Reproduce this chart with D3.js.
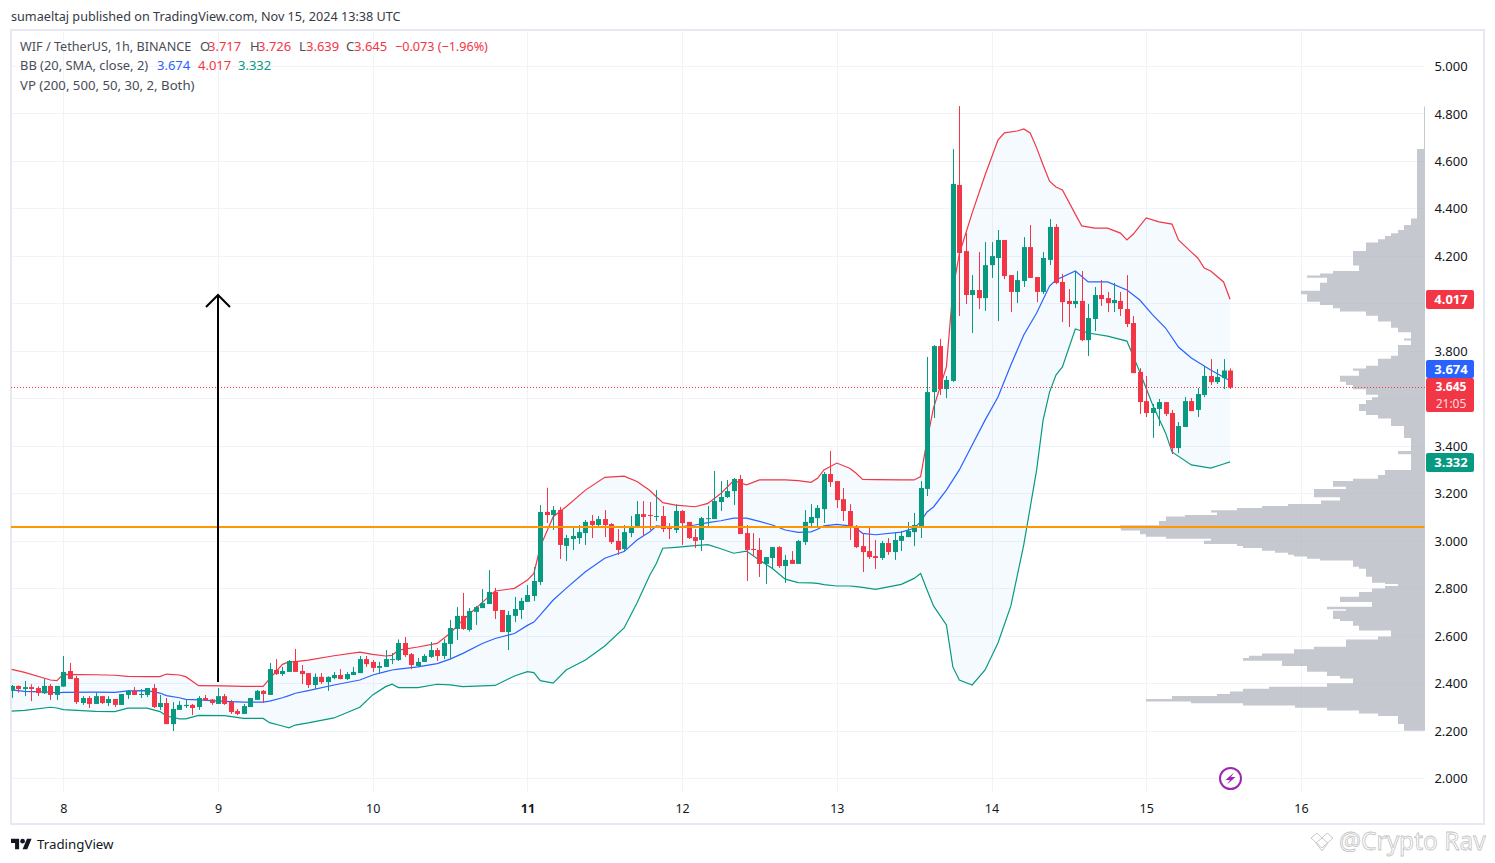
<!DOCTYPE html>
<html>
<head>
<meta charset="utf-8">
<script src="https://cdnjs.cloudflare.com/ajax/libs/d3/7.8.5/d3.min.js"></script>
<style>
html, body { margin: 0; background: #fff; }
text { font-family: "Noto Sans", sans-serif; }
</style>
</head>
<body>
<svg id="chart" width="1495" height="863"></svg>
<script>
// hourly candles, first one is 8 hours before Nov 8 00:00
var firstHour = -8;
var opens = [2.368,2.388,2.375,2.383,2.379,2.357,2.388,2.350,2.385,2.451,2.421,2.316,2.337,2.312,2.345,2.316,2.333,2.308,2.350,2.367,2.350,2.350,2.379,2.299,2.316,2.227,2.287,2.303,2.308,2.299,2.337,2.331,2.312,2.345,2.320,2.282,2.270,2.299,2.329,2.367,2.350,2.455,2.438,2.447,2.493,
  2.451,2.442,2.392,2.426,2.404,2.421,2.434,2.417,2.434,2.442,2.501,2.489,2.464,2.468,2.497,2.497,2.569,2.522,2.472,2.489,2.510,2.539,2.514,2.565,2.628,2.683,2.624,2.700,2.716,2.733,2.784,2.708,2.615,2.683,2.708,2.742,2.767,2.826,
  3.121,3.108,3.129,2.978,3.007,3.011,3.032,3.083,3.066,3.091,3.070,2.999,2.965,3.032,3.058,3.112,3.108,3.100,3.104,3.053,3.045,3.125,3.079,3.015,3.003,3.091,3.091,3.163,3.184,3.209,3.260,
  3.032,2.965,2.961,2.902,2.927,2.973,2.893,2.919,2.902,2.994,3.074,3.095,3.133,3.281,3.251,3.175,3.125,3.062,2.977,2.956,2.935,2.927,2.990,2.952,2.999,3.015,3.036,3.062,3.218,
  3.626,3.820,3.639,3.673,4.499,4.220,4.035,4.056,4.022,4.161,4.191,4.267,4.119,4.048,4.094,4.237,4.111,4.048,4.183,4.322,4.090,4.010,3.997,
  4.010,3.845,3.934,4.035,4.022,4.001,4.010,3.976,3.917,3.711,3.588,3.538,3.555,3.584,3.538,3.390,3.479,3.588,3.551,3.614,3.694,3.668,3.685,3.717];
var highs = [2.392,2.390,2.409,2.395,2.386,2.417,2.396,2.388,2.514,2.485,2.430,2.345,2.345,2.361,2.345,2.345,2.333,2.354,2.371,2.383,2.375,2.379,2.396,2.350,2.337,2.320,2.324,2.333,2.312,2.345,2.350,2.333,2.379,2.354,2.329,2.291,2.312,2.337,2.371,2.371,2.485,2.501,2.468,2.497,2.544,
  2.476,2.442,2.441,2.442,2.428,2.447,2.459,2.447,2.468,2.514,2.514,2.497,2.489,2.539,2.527,2.584,2.594,2.527,2.506,2.522,2.573,2.548,2.586,2.666,2.720,2.780,2.716,2.725,2.796,2.876,2.801,2.708,2.704,2.763,2.759,2.813,2.889,3.150,
  3.223,3.146,3.142,3.024,3.058,3.066,3.087,3.108,3.104,3.129,3.074,3.049,3.066,3.104,3.167,3.167,3.163,3.213,3.146,3.074,3.154,3.129,3.079,3.049,3.100,3.146,3.294,3.251,3.256,3.264,3.277,
  3.066,3.032,3.011,2.931,2.973,2.977,2.940,2.956,3.003,3.129,3.154,3.150,3.289,3.378,3.251,3.222,3.154,3.066,3.032,3.058,3.003,2.999,3.011,3.032,3.041,3.079,3.117,3.251,3.774,
  3.824,3.850,3.694,4.650,4.831,4.296,4.119,4.216,4.258,4.258,4.309,4.267,4.119,4.136,4.279,4.330,4.111,4.216,4.355,4.334,4.124,4.060,4.136,
  4.136,3.997,4.069,4.098,4.048,4.086,4.048,4.119,3.947,3.727,3.694,3.576,3.597,3.584,3.551,3.500,3.605,3.601,3.643,3.736,3.765,3.723,3.765,3.726];
var lows = [2.338,2.360,2.345,2.324,2.345,2.354,2.329,2.329,2.385,2.417,2.312,2.308,2.295,2.312,2.312,2.303,2.299,2.308,2.333,2.350,2.337,2.341,2.295,2.287,2.227,2.198,2.287,2.295,2.265,2.287,2.324,2.308,2.312,2.308,2.270,2.265,2.270,2.299,2.329,2.316,2.350,2.434,2.430,2.447,2.447,
  2.396,2.379,2.375,2.396,2.367,2.416,2.416,2.413,2.434,2.442,2.468,2.447,2.442,2.468,2.480,2.493,2.510,2.459,2.472,2.489,2.506,2.493,2.501,2.501,2.581,2.624,2.617,2.645,2.716,2.733,2.670,2.615,2.539,2.657,2.670,2.742,2.746,2.813,
  3.074,3.045,2.923,2.914,2.961,2.986,2.982,3.011,3.053,3.015,2.986,2.940,2.956,3.015,3.053,3.020,3.045,3.083,3.036,3.007,3.032,2.982,3.007,2.969,2.956,3.058,3.091,3.125,3.180,3.150,3.028,
  2.830,2.935,2.847,2.817,2.881,2.885,2.822,2.902,2.902,2.982,3.053,3.058,3.074,3.226,3.138,3.083,3.003,2.969,2.868,2.923,2.881,2.919,2.940,2.919,2.956,3.015,2.977,3.011,3.188,
  3.517,3.614,3.601,3.669,3.947,3.997,3.875,3.976,3.968,4.107,3.925,4.102,3.963,4.001,4.069,4.107,4.005,4.039,4.161,4.081,3.921,3.900,3.980,
  3.841,3.778,3.883,3.989,3.963,3.963,3.947,3.900,3.706,3.534,3.521,3.433,3.483,3.525,3.365,3.369,3.479,3.546,3.521,3.605,3.656,3.660,3.639,3.639];
var closes = [2.388,2.375,2.383,2.375,2.358,2.388,2.350,2.388,2.447,2.417,2.320,2.337,2.312,2.345,2.316,2.333,2.308,2.354,2.367,2.350,2.354,2.379,2.299,2.316,2.227,2.291,2.308,2.308,2.295,2.337,2.329,2.316,2.345,2.312,2.278,2.270,2.303,2.337,2.367,2.354,2.459,2.438,2.451,2.493,2.447,
  2.438,2.392,2.426,2.404,2.426,2.434,2.417,2.438,2.447,2.501,2.480,2.464,2.472,2.501,2.501,2.569,2.518,2.476,2.489,2.514,2.539,2.514,2.569,2.632,2.683,2.628,2.704,2.720,2.737,2.784,2.704,2.615,2.687,2.712,2.746,2.771,2.830,3.121,
  3.108,3.129,2.982,3.011,3.020,3.036,3.079,3.066,3.091,3.066,2.994,2.961,3.036,3.062,3.112,3.100,3.104,3.104,3.049,3.049,3.125,3.074,3.011,2.999,3.095,3.095,3.167,3.184,3.209,3.260,3.028,
  2.961,2.961,2.902,2.931,2.973,2.893,2.919,2.902,2.999,3.079,3.100,3.138,3.281,3.247,3.171,3.125,3.056,2.973,2.952,2.931,2.927,2.990,2.952,3.003,3.020,3.041,3.066,3.222,3.626,
  3.820,3.639,3.677,4.503,4.212,4.035,4.056,4.022,4.161,4.199,4.267,4.115,4.048,4.098,4.237,4.107,4.048,4.191,4.322,4.086,4.005,3.997,4.010,
  3.845,3.938,4.035,4.018,4.001,4.014,3.976,3.913,3.706,3.584,3.538,3.559,3.584,3.534,3.390,3.483,3.588,3.546,3.618,3.694,3.668,3.690,3.717,3.645];

// Bollinger bands, read at the hours where the lines bend
var bandHours = [-8,-6,-2,-1,0,5,8,10,13,15,16,18,19,21,25,28,31,32,34,35,36,38,42,46,48,50,51,52,55,58,60,62,65,67,70,72,73,74,76,78,81,84,87,89,91,92,93,95,98,100,102,104,106,108,110,112,114,116,117,118,120,122,123,124,126,130,132,133];
var bbUpper = [2.458,2.445,2.413,2.410,2.437,2.435,2.433,2.428,2.427,2.427,2.438,2.434,2.427,2.389,2.388,2.386,2.386,2.418,2.479,2.489,2.490,2.497,2.515,2.530,2.521,2.514,2.517,2.539,2.552,2.567,2.610,2.666,2.740,2.788,2.799,2.834,2.862,2.975,3.101,3.143,3.213,3.267,3.272,3.249,3.211,3.185,3.160,3.150,3.143,3.157,3.199,3.253,3.235,3.256,3.256,3.256,3.253,3.246,3.263,3.298,3.327,3.305,3.284,3.258,3.257,3.256,3.256,3.270];
var bbBasis = [2.371,2.365,2.362,2.359,2.361,2.362,2.361,2.367,2.368,2.358,2.347,2.338,2.331,2.329,2.323,2.320,2.320,2.324,2.338,2.347,2.357,2.368,2.392,2.413,2.434,2.448,2.455,2.459,2.468,2.482,2.501,2.525,2.567,2.588,2.609,2.643,2.657,2.687,2.750,2.799,2.869,2.926,2.954,3.003,3.038,3.062,3.059,3.056,3.066,3.076,3.084,3.095,3.095,3.081,3.066,3.045,3.035,3.037,3.048,3.062,3.069,3.062,3.052,3.031,3.025,3.036,3.052,3.080];
var bbLower = [2.282,2.285,2.298,2.295,2.288,2.281,2.280,2.294,2.294,2.280,2.261,2.249,2.249,2.264,2.263,2.251,2.251,2.233,2.219,2.211,2.223,2.232,2.253,2.298,2.350,2.385,2.395,2.381,2.381,2.395,2.392,2.385,2.388,2.390,2.430,2.448,2.444,2.410,2.400,2.455,2.497,2.556,2.632,2.737,2.855,2.904,2.968,2.972,2.979,2.983,2.966,2.947,2.956,2.918,2.883,2.838,2.823,2.822,2.820,2.815,2.809,2.809,2.806,2.803,2.795,2.816,2.841,2.862];
var upperTailHours = [134,135,137,138,139,141,143,145,146,148,149,150,151,152,153,154,155,157,158,160,162,164,165,166,168,170,172,173,175,176,177,178,180,181];
var upperTail = [3.424,3.559,3.732,4.056,4.208,4.381,4.541,4.688,4.718,4.726,4.735,4.718,4.655,4.583,4.515,4.490,4.478,4.376,4.326,4.317,4.317,4.296,4.267,4.292,4.360,4.343,4.334,4.267,4.216,4.191,4.149,4.136,4.090,4.017];
var basisTailHours = [134,135,137,139,141,143,145,147,149,151,153,154,157,159,162,165,167,169,171,173,175,178,181];
var basisTail = [3.121,3.142,3.213,3.298,3.403,3.508,3.605,3.740,3.867,3.959,4.073,4.098,4.136,4.090,4.090,4.056,4.014,3.951,3.896,3.816,3.770,3.719,3.674];
var lowerTailHours = [134,135,137,138,139,141,143,145,147,149,151,152,153,154,155,157,159,162,165,167,169,171,172,175,178,180,181];
var lowerTail = [2.792,2.725,2.645,2.468,2.413,2.392,2.455,2.569,2.725,2.982,3.298,3.508,3.626,3.698,3.732,3.892,3.875,3.862,3.841,3.711,3.572,3.454,3.374,3.319,3.306,3.323,3.332];

// volume profile, top price of each row and its relative volume
var vpTops = [4.829,4.650,4.357,4.330,4.309,4.295,4.284,4.270,4.256,4.220,4.159,4.136,4.126,4.117,4.108,4.087,4.053,4.038,4.007,3.993,3.979,3.966,3.948,3.923,3.897,3.878,3.852,3.843,3.824,3.779,3.767,3.737,3.725,3.716,3.695,3.670,3.656,3.638,3.615,3.604,3.593,3.576,3.546,3.529,3.515,3.483,3.433,3.378,3.364,3.298,3.277,3.261,3.251,3.227,3.218,3.183,3.169,3.155,3.146,3.138,3.128,3.119,3.108,3.102,3.083,3.065,3.051,3.043,3.027,3.017,3.008,3.000,2.986,2.978,2.969,2.958,2.949,2.941,2.933,2.924,2.916,2.890,2.882,2.848,2.823,2.817,2.809,2.798,2.784,2.764,2.742,2.722,2.711,2.705,2.670,2.662,2.642,2.621,2.596,2.584,2.553,2.542,2.525,2.515,2.506,2.494,2.472,2.448,2.430,2.419,2.399,2.385,2.376,2.364,2.354,2.346,2.333,2.322,2.315,2.306,2.296,2.284,2.272,2.261,2.228];
var vpVolumes = [1,8,14,21,27,34,40,47,59,72,66,92,105,118,98,105,124,118,105,92,85,59,47,34,27,14,21,14,27,34,47,59,72,66,85,79,72,59,47,53,59,66,59,47,34,21,14,27,14,40,47,72,92,79,111,85,104,137,163,188,214,208,240,259,266,305,304,285,279,259,214,221,188,182,163,150,137,131,118,105,72,66,59,53,40,27,40,53,66,85,53,98,79,92,85,72,66,34,47,79,111,131,163,176,182,143,118,98,85,72,98,156,182,195,208,253,279,234,182,130,98,66,47,27,21];
var vpBottom = 2.199;

var priceLabels = ["5.000","4.800","4.600","4.400","4.200","3.800","3.400","3.200","3.000","2.800","2.600","2.400","2.200","2.000"];
var priceGrid = [5,4.8,4.6,4.4,4.2,4,3.8,3.6,3.4,3.2,3,2.8,2.6,2.4,2.2,2];
var dayHours = [0,24,48,72,96,120,144,168,192];
var dayLabels = ["8","9","10","11","12","13","14","15","16"];

var levelPrice = 3.058;
var lastPrice = 3.645;
var arrowHour = 24;
var arrowFrom = 2.404;
var arrowTo = 4.035;

var green = "#089981", red = "#f23645", blue = "#2962ff";
var gridColor = "#f0f3fa", frameColor = "#e6e9f2", textColor = "#4a4d57";

var svg = d3.select("#chart");
var paneLeft = 11, paneRight = 1424.5, paneTop = 31, paneBottom = 793;

var x = d3.scaleLinear().domain([0, 192]).range([63.3, 63.3 + 6.446 * 192]);
var y = d3.scaleLinear().domain([2, 5]).range([778, 66]);
var vol = d3.scaleLinear().domain([0, 305]).range([1425, 1120]);
var snap = function(v){ return Math.round(v) + 0.5; };

svg.append("clipPath").attr("id", "pane").append("rect")
   .attr("x", paneLeft).attr("y", paneTop).attr("width", paneRight - paneLeft + 1).attr("height", paneBottom - paneTop);

// frame
svg.append("rect").attr("x", 11).attr("y", 30).attr("width", 1473).attr("height", 794)
   .attr("fill", "none").attr("stroke", frameColor).attr("stroke-width", 2);

// grid
svg.append("g").selectAll("line").data(priceGrid).enter().append("line")
   .attr("x1", paneLeft).attr("x2", paneRight)
   .attr("y1", function(d){ return snap(y(d)); }).attr("y2", function(d){ return snap(y(d)); })
   .attr("stroke", gridColor);
svg.append("g").selectAll("line").data(dayHours).enter().append("line")
   .attr("y1", paneTop).attr("y2", paneBottom)
   .attr("x1", function(d){ return snap(x(d)); }).attr("x2", function(d){ return snap(x(d)); })
   .attr("stroke", gridColor);

var pane = svg.append("g").attr("clip-path", "url(#pane)");

// volume profile as one stepped outline so the rows leave no seams
var line = d3.line();
var vpPts = [[vol(0), y(vpTops[0])]];
vpTops.forEach(function(d, i){
  var next = i + 1 < vpTops.length ? vpTops[i + 1] : vpBottom;
  vpPts.push([vol(vpVolumes[i]), y(d)]);
  vpPts.push([vol(vpVolumes[i]), y(next)]);
});
vpPts.push([vol(0), y(vpBottom)]);
pane.append("path").attr("d", line(vpPts) + "Z").attr("fill", "#b2b5be").attr("opacity", 0.75);

// bollinger fill and lines
var zip = function(hours, values){ return hours.map(function(h, i){ return [x(h), y(values[i])]; }); };
var upperPts = zip(bandHours.concat(upperTailHours), bbUpper.concat(upperTail));
var basisPts = zip(bandHours.concat(basisTailHours), bbBasis.concat(basisTail));
var lowerPts = zip(bandHours.concat(lowerTailHours), bbLower.concat(lowerTail));

pane.append("path").attr("d", line(upperPts.concat(lowerPts.slice().reverse())) + "Z")
   .attr("fill", "#2196f3").attr("fill-opacity", 0.05);
[[upperPts, red], [basisPts, blue], [lowerPts, green]].forEach(function(b){
  pane.append("path").attr("d", line(b[0])).attr("fill", "none").attr("stroke", b[1]).attr("stroke-width", 1.2);
});

// candles
var hours = opens.map(function(d, i){ return firstHour + i; });
var colorOf = function(i){ return closes[i] >= opens[i] ? green : red; };
var candles = pane.append("g").selectAll("g").data(hours).enter().append("g");
candles.append("line")
   .attr("x1", function(d){ return snap(x(d)); }).attr("x2", function(d){ return snap(x(d)); })
   .attr("y1", function(d, i){ return y(highs[i]); }).attr("y2", function(d, i){ return y(lows[i]); })
   .attr("stroke", function(d, i){ return colorOf(i); });
candles.append("rect")
   .attr("x", function(d){ return Math.round(x(d)) - 2; })
   .attr("width", 5)
   .attr("y", function(d, i){ return y(Math.max(opens[i], closes[i])); })
   .attr("height", function(d, i){ return Math.max(1, Math.abs(y(opens[i]) - y(closes[i]))); })
   .attr("fill", function(d, i){ return colorOf(i); });

// drawings
pane.append("line").attr("x1", paneLeft).attr("x2", paneRight).attr("y1", y(levelPrice)).attr("y2", y(levelPrice))
   .attr("stroke", "#ff9800").attr("stroke-width", 2);
var ax = snap(x(arrowHour)) - 0.5;
svg.append("path")
   .attr("d", "M" + ax + "," + y(arrowFrom) + "L" + ax + "," + y(arrowTo)
     + "M" + (ax - 12) + "," + (y(arrowTo) + 12) + "L" + ax + "," + y(arrowTo) + "L" + (ax + 12) + "," + (y(arrowTo) + 12))
   .attr("fill", "none").attr("stroke", "#000").attr("stroke-width", 2);
pane.append("line").attr("x1", paneLeft).attr("x2", paneRight + 1)
   .attr("y1", Math.floor(y(lastPrice)) + 0.5).attr("y2", Math.floor(y(lastPrice)) + 0.5)
   .attr("stroke", red).attr("stroke-dasharray", "1 2");

// axes
var priceAxis = d3.axisRight(y)
   .tickValues(priceLabels.map(Number))
   .tickFormat(d3.format(".3f"))
   .tickSize(0);
var priceG = svg.append("g").attr("transform", "translate(1451,0.4)").call(priceAxis);
priceG.select(".domain").remove();
priceG.selectAll("text").attr("x", 0).attr("text-anchor", "middle")
   .attr("font-size", 13).attr("fill", "#131722").style("font-family", "'Noto Sans', sans-serif");

var timeAxis = d3.axisBottom(x)
   .tickValues(dayHours)
   .tickFormat(function(d, i){ return dayLabels[i]; })
   .tickSize(0);
var timeG = svg.append("g").attr("transform", "translate(0,801)").call(timeAxis);
timeG.select(".domain").remove();
timeG.selectAll("text").attr("y", 3).attr("font-size", 12.5).attr("fill", "#131722")
   .style("font-family", "'Noto Sans', sans-serif")
   .attr("font-weight", function(d){ return d === 72 ? 700 : 400; });

// price tags
function tag(tagTop, h, color, rows){
  svg.append("rect").attr("x", 1426).attr("y", tagTop).attr("width", 48).attr("height", h).attr("rx", 2).attr("fill", color);
  rows.forEach(function(r){
    svg.append("text").attr("x", 1451).attr("y", r[0]).attr("text-anchor", "middle")
       .attr("font-size", r[4] || 13).attr("font-weight", r[2] || 700).attr("fill", "#fff").attr("fill-opacity", r[3] || 1).text(r[1]);
  });
}
tag(290, 19, red, [[304, "4.017"]]);
tag(360, 18, blue, [[374, "3.674"]]);
tag(378, 34, red, [[391, "3.645", 700, 1, 12], [408, "21:05", 400, 0.85, 12]]);
tag(453, 19, green, [[467, "3.332"]]);

// legend
function label(px, py, str, color, size){
  svg.append("text").attr("x", px).attr("y", py).attr("font-size", size || 13).attr("fill", color || textColor).text(str);
}
label(11, 21, "sumaeltaj published on TradingView.com, Nov 15, 2024 13:38 UTC", "#363a45", 12.65);
label(20, 51, "WIF / TetherUS, 1h, BINANCE", textColor, 12.65);
label(200, 51, "O"); label(208, 51, "3.717", red);
label(250, 51, "H"); label(258, 51, "3.726", red);
label(299, 51, "L"); label(306, 51, "3.639", red);
label(346, 51, "C"); label(354, 51, "3.645", red);
label(395, 51, "\u22120.073 (\u22121.96%)", red, 12.6);
label(20, 70, "BB (20, SMA, close, 2)", textColor, 12.9);
label(157, 70, "3.674", blue); label(198, 70, "4.017", red); label(238, 70, "3.332", green);
label(20, 90, "VP (200, 500, 50, 30, 2, Both)", textColor, 13.2);

// bolt marker
var bolt = svg.append("g").attr("transform", "translate(1230.5,778.5)");
bolt.append("circle").attr("r", 10.5).attr("fill", "#fff").attr("stroke", "#9c27b0").attr("stroke-width", 2);
bolt.append("path").attr("d", "M3.5,-6L-5,1.5H-0.5L-3.5,6L5,-1.5H0.5Z").attr("fill", "#9c27b0");

// logo and footer
var logo = svg.append("g").attr("transform", "translate(11,836.5) scale(0.58)").attr("fill", "#131722");
logo.append("path").attr("d", "M14 22H7V11H0V4h14v18zM28 22h-8l7.5-18h8L28 22z");
logo.append("circle").attr("cx", 20).attr("cy", 8).attr("r", 4);
label(37, 849, "TradingView", "#131722", 13.3);

// watermark
svg.append("g").attr("fill", "none").attr("stroke", "#c9c9c9").attr("stroke-width", 1)
   .selectAll("path")
   .data(["M1311,838L1317,833L1322,838L1327,833L1333,838", "M1311,838L1322,848L1333,838", "M1316,843L1322,838L1328,843", "M1316,843L1322,851L1328,843"])
   .enter().append("path").attr("d", function(d){ return d; });
svg.append("text").attr("x", 1339).attr("y", 850).attr("font-size", 24.5)
   .attr("fill", "#fff").attr("stroke", "#c4c4c4").attr("stroke-width", 0.8).text("@Crypto Rav");
</script>
</body>
</html>
